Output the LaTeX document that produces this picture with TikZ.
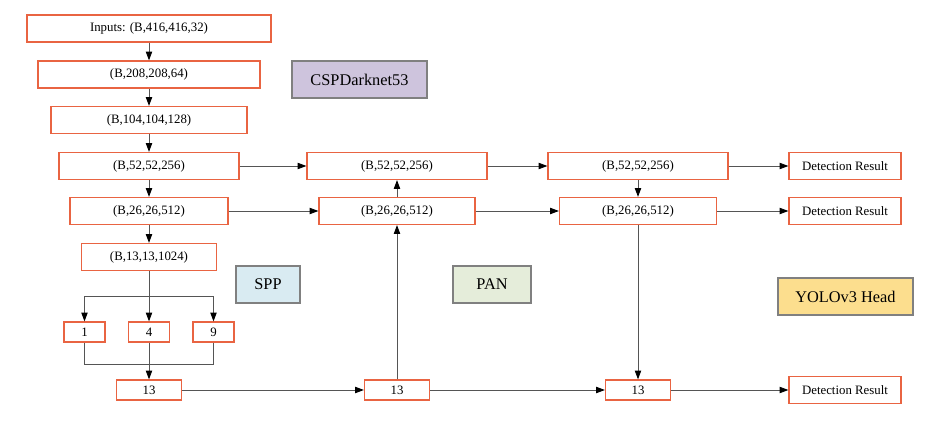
\documentclass[tikz,border=0pt]{standalone}
\usepackage{fontspec}
\setmainfont{Liberation Serif}
\usetikzlibrary{arrows.meta}

\definecolor{boxline}{RGB}{233,100,66}
\definecolor{tagline}{RGB}{128,128,128}
\definecolor{linegray}{RGB}{85,85,85}
\definecolor{cspfill}{RGB}{206,196,221}
\definecolor{sppfill}{RGB}{217,235,242}
\definecolor{panfill}{RGB}{229,237,218}
\definecolor{headfill}{RGB}{252,222,142}

\tikzset{
  layer/.style={draw=boxline, line width=0.7pt, fill=white, minimum height=0.54cm, inner sep=0pt, font=\fontsize{7.3}{8}\selectfont},
  pool/.style={layer, minimum height=0.4cm},
  tag/.style={draw=tagline, line width=0.8pt, minimum height=0.74cm, inner sep=0pt, font=\fontsize{9.3}{11}\selectfont},
  wire/.style={draw=linegray, line width=0.5pt},
  arr/.style={wire, -{Triangle[length=5pt,width=3.6pt,color=black]}}
}

\begin{document}
\begin{tikzpicture}[x=0.02cm,y=-0.02cm]
\useasboundingbox (0,0) rectangle (934,431);

% Backbone
\node[layer, minimum width=4.88cm] (in) at (149,28.5) {Inputs: (B,416,416,32)};
\node[layer, minimum width=4.44cm] (b208) at (149,74.5) {(B,208,208,64)};
\node[layer, minimum width=3.92cm] (b104) at (149,120) {(B,104,104,128)};
\node[layer, minimum width=3.6cm] (b52) at (149,166) {(B,52,52,256)};
\node[layer, minimum width=3.16cm] (b26) at (149,211) {(B,26,26,512)};
\node[layer, minimum width=2.7cm] (b13) at (149,257) {(B,13,13,1024)};

\draw[arr] (in) -- (b208);
\draw[arr] (b208) -- (b104);
\draw[arr] (b104) -- (b52);
\draw[arr] (b52) -- (b26);
\draw[arr] (b26) -- (b13);

% SPP pooling
\foreach \k/\x in {1/84.5, 4/149, 9/213.5} {
    \node[pool, minimum width=0.82cm] (p\k) at (\x,332) {\k};
}
\node[pool, minimum width=1.3cm] (s13) at (149,390) {13};

\coordinate (split) at (149,296);
\coordinate (merge) at (149,364);
\draw[arr] (b13) -- (p4);
\draw[arr] (split) -| (p1);
\draw[arr] (split) -| (p9);
\draw[wire] (p1) |- (merge);
\draw[wire] (p9) |- (merge);
\draw[arr] (p4) -- (s13);

% PAN
\node[layer, minimum width=3.6cm] (m52) at (397,166) {(B,52,52,256)};
\node[layer, minimum width=3.12cm] (m26) at (397,211) {(B,26,26,512)};
\node[pool, minimum width=1.3cm] (m13) at (397,390) {13};

\draw[arr] (b52) -- (m52);
\draw[arr] (b26) -- (m26);
\draw[arr] (s13) -- (m13);
\draw[arr] (m13) -- (m26);
\draw[arr] (m26) -- (m52);

% Head
\node[layer, minimum width=3.6cm] (r52) at (638,166) {(B,52,52,256)};
\node[layer, minimum width=3.14cm] (r26) at (638,211) {(B,26,26,512)};
\node[pool, minimum width=1.3cm] (r13) at (638,390) {13};

\draw[arr] (m52) -- (r52);
\draw[arr] (m26) -- (r26);
\draw[arr] (m13) -- (r13);
\draw[arr] (r52) -- (r26);
\draw[arr] (r26) -- (r13);

% Outputs
\foreach \n/\y in {d1/166, d2/211, d3/390} {
    \node[layer, minimum width=2.24cm] (\n) at (845,\y) {Detection Result};
}
\draw[arr] (r52) -- (d1);
\draw[arr] (r26) -- (d2);
\draw[arr] (r13) -- (d3);

% Part labels
\node[tag, fill=cspfill, minimum width=2.7cm] (csp) at (359.5,79.5) {CSPDarknet53};
\node[tag, fill=sppfill, minimum width=1.28cm] (spp) at (268,284.5) {SPP};
\node[tag, fill=panfill, minimum width=1.56cm] (pan) at (492,284.5) {PAN};
\node[tag, fill=headfill, minimum width=2.7cm] (head) at (845.5,296.5) {YOLOv3 Head};

\end{tikzpicture}
\end{document}
